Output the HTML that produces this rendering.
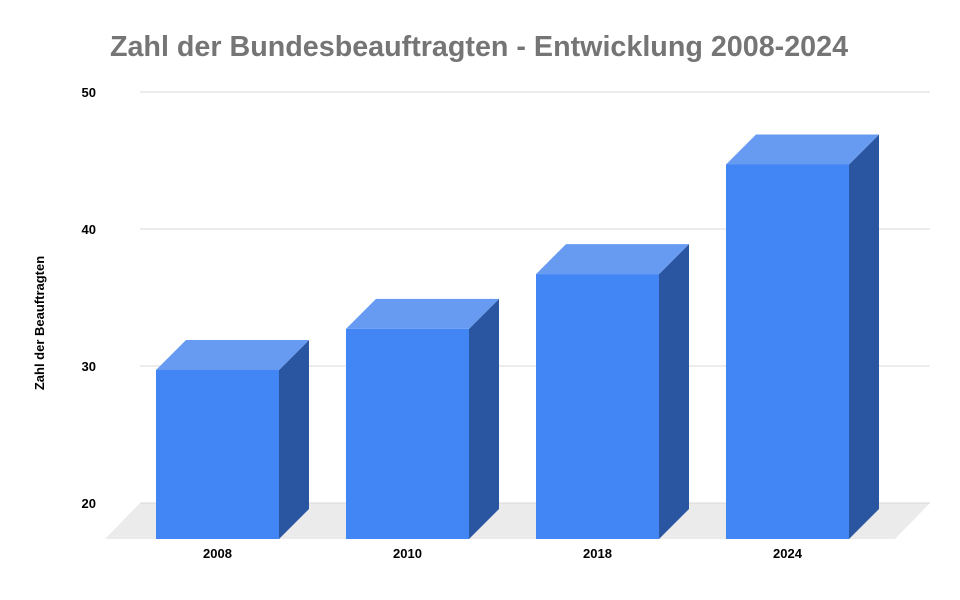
<!DOCTYPE html>
<html><head><meta charset="utf-8"><style>
body{margin:0;background:#fff;width:960px;height:595px;overflow:hidden;font-family:"Liberation Sans",sans-serif}
</style></head><body>
<svg width="960" height="595" id="c">
<text x="479" y="56" text-anchor="middle" font-size="28.7" font-weight="bold" fill="#757575">Zahl der Bundesbeauftragten - Entwicklung 2008-2024</text>
<text transform="translate(44,323) rotate(-90)" text-anchor="middle" font-size="13" font-weight="bold" fill="#000">Zahl der Beauftragten</text>
</svg>
<script>
const categories=["2008","2010","2018","2024"];
const values=[30,33,37,45];
const ticks=[20,30,40,50];
const svg=document.getElementById('c');
const NS="http://www.w3.org/2000/svg";
function y(v){return 503-(v-20)*13.7;}
function xb(i){return 156+i*190;}
function mk(t,a,p){const e=document.createElementNS(NS,t);for(const k in a)e.setAttribute(k,a[k]);(p||svg).appendChild(e);return e;}
const floor=mk('polygon',{points:"105,539 140,503 930,503 895,539",fill:"#ebebeb"});


ticks.forEach(t=>{
 const l=mk('line',{x1:140,x2:930,y1:y(t),y2:y(t),stroke:"#d9d9d9","stroke-width":1});
 
 
 const tx=mk('text',{x:96,y:y(t)+5,"text-anchor":"end","font-size":13,"font-weight":"bold",fill:"#000"});
 tx.textContent=t;
 
 
});
categories.forEach((c,i)=>{
 const x=xb(i),w=123,d=30,top=y(values[i])+4,bot=539;
 const g=mk('g',{});
 
 
 mk('polygon',{points:`${x+w},${top} ${x+w+d},${top-d} ${x+w+d},${bot-d} ${x+w},${bot}`,fill:"#2a55a1"},g);
 mk('polygon',{points:`${x},${top} ${x+d},${top-d} ${x+w+d},${top-d} ${x+w},${top}`,fill:"#679bf2"},g);
 mk('rect',{x:x,y:top,width:w,height:bot-top,fill:"#4285f4"},g);
 const tx=mk('text',{x:x+w/2,y:558,"text-anchor":"middle","font-size":13,"font-weight":"bold",fill:"#000"});
 tx.textContent=c;
 
 
});
</script>
</body></html>
